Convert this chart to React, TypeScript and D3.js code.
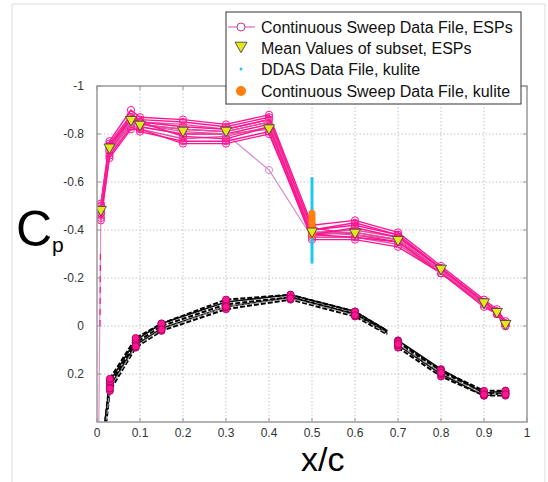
import React from "react";
import * as d3 from "d3";

const W = 548;
const H = 482;

const xTicks = [0, 0.1, 0.2, 0.3, 0.4, 0.5, 0.6, 0.7, 0.8, 0.9, 1];
const xTickLabels = ["0", "0.1", "0.2", "0.3", "0.4", "0.5", "0.6", "0.7", "0.8", "0.9", "1"];
const yTicks = [-1, -0.8, -0.6, -0.4, -0.2, 0, 0.2];
const yTickLabels = ["-1", "-0.8", "-0.6", "-0.4", "-0.2", "0", "0.2"];

const legendLabels = [
  "Continuous Sweep Data File, ESPs",
  "Mean Values of subset, ESPs",
  "DDAS Data File, kulite",
  "Continuous Sweep Data File, kulite",
];

// Upper surface ESP stations
const xsUpper = [0.009, 0.029, 0.079, 0.1, 0.2, 0.3, 0.4, 0.5, 0.6, 0.7, 0.8, 0.9, 0.93, 0.95];
const espSweeps = [
  [-0.5, -0.76, -0.88, -0.86, -0.85, -0.83, -0.87, -0.4, -0.42, -0.38, -0.24, -0.1, -0.06, -0.01],
  [-0.48, -0.75, -0.87, -0.85, -0.84, -0.82, -0.86, -0.39, -0.4, -0.37, -0.24, -0.1, -0.06, -0.01],
  [-0.47, -0.73, -0.85, -0.84, -0.82, -0.81, -0.85, -0.38, -0.39, -0.36, -0.23, -0.09, -0.05, 0.0],
  [-0.49, -0.74, -0.86, -0.83, -0.8, -0.8, -0.84, -0.41, -0.38, -0.35, -0.23, -0.09, -0.06, -0.01],
  [-0.46, -0.72, -0.84, -0.82, -0.78, -0.79, -0.83, -0.37, -0.37, -0.34, -0.22, -0.09, -0.05, 0.0],
  [-0.51, -0.77, -0.9, -0.87, -0.86, -0.84, -0.88, -0.42, -0.44, -0.39, -0.25, -0.11, -0.07, -0.02],
  [-0.45, -0.71, -0.83, -0.81, -0.77, -0.77, -0.81, -0.36, -0.36, -0.33, -0.22, -0.08, -0.05, 0.0],
  [-0.48, -0.74, -0.86, -0.84, -0.81, -0.8, -0.82, -0.39, -0.38, -0.36, -0.23, -0.1, -0.06, -0.01],
  [-0.44, -0.7, -0.82, -0.82, -0.76, -0.76, -0.8, -0.38, -0.37, -0.35, -0.22, -0.09, -0.05, 0.0],
  [-0.5, -0.75, -0.87, -0.85, -0.83, -0.82, -0.86, -0.4, -0.43, -0.38, -0.24, -0.1, -0.06, -0.01],
  [-0.49, -0.74, -0.85, -0.84, -0.82, -0.81, -0.85, -0.39, -0.39, -0.36, -0.23, -0.09, -0.06, 0.0],
  [-0.47, -0.75, -0.86, -0.85, -0.79, -0.78, -0.83, -0.38, -0.41, -0.37, -0.24, -0.1, -0.06, -0.01],
];
const espOutlier = [-0.47, -0.73, -0.85, -0.83, -0.8, -0.8, -0.65, -0.37, -0.41, -0.37, -0.24, -0.1, -0.06, -0.01];
const meanCp = [-0.48, -0.74, -0.855, -0.835, -0.81, -0.81, -0.82, -0.39, -0.385, -0.355, -0.235, -0.095, -0.055, -0.005];

// leading edge drop (pink line toward the stagnation point)
const leX = [0.004, 0.009];
const leCp = [0.45, -0.48];

// Lower surface
const xsLowerFront = [0.012, 0.03, 0.09, 0.15, 0.3, 0.45, 0.6, 0.675];
const xsLowerRear = [0.7, 0.8, 0.9, 0.95];
const lowerFront = [
  [0.55, 0.27, 0.09, 0.02, -0.07, -0.11, -0.04, 0.035],
  [0.53, 0.25, 0.08, 0.01, -0.08, -0.12, -0.05, 0.03],
  [0.52, 0.24, 0.07, 0.0, -0.09, -0.12, -0.05, 0.025],
  [0.5, 0.23, 0.06, -0.01, -0.1, -0.13, -0.06, 0.02],
  [0.51, 0.22, 0.05, -0.01, -0.11, -0.13, -0.06, 0.02],
  [0.54, 0.26, 0.085, 0.015, -0.08, -0.115, -0.045, 0.03],
];
const lowerRear = [
  [0.09, 0.21, 0.29, 0.29],
  [0.08, 0.2, 0.29, 0.28],
  [0.07, 0.19, 0.28, 0.28],
  [0.06, 0.18, 0.28, 0.27],
  [0.065, 0.185, 0.27, 0.27],
  [0.075, 0.195, 0.285, 0.285],
];

// Kulite at x/c = 0.5
const kuliteX = 0.5;
const ddasRange = [-0.62, -0.26];
const sweepKuliteRange = [-0.47, -0.38];

const FONT = "'Liberation Sans', Arial, sans-serif";

export default function App() {
  const x = d3.scaleLinear().domain([0, 1]).range([97, 527]);
  const y = d3.scaleLinear().domain([-1, 0.4]).range([86, 422]);
  const [x0, x1] = x.range();
  const [y0, y1] = y.range();

  const line = d3
    .line<[number, number]>()
    .x((d) => x(d[0]))
    .y((d) => y(d[1]));

  const zip = (xs: number[], ys: number[]) => xs.map((v, i) => [v, ys[i]] as [number, number]);
  const pink = "#ff1493";
  const tri = (cx: number, cy: number, s: number) =>
    `M${cx - s},${cy - s * 0.8}L${cx + s},${cy - s * 0.8}L${cx},${cy + s * 0.95}Z`;

  const lowerStationsFront = xsLowerFront.slice(1, 7);

  const legX = 226;
  const legY = 12;
  const legW = 295;
  const legH = 92;
  const rowY = [27, 48, 69, 91];
  const sampleX = 241;

  const lowerStyle = (i: number) =>
    i === 5
      ? { stroke: "#999", strokeWidth: 1.2, strokeDasharray: "4 2" }
      : i % 2 === 0
      ? { stroke: "#000", strokeWidth: 2, strokeDasharray: "5 2" }
      : { stroke: "#111", strokeWidth: 1.6, strokeDasharray: "none" };

  return (
    <svg
      width={W}
      height={H}
      style={{ position: "absolute", left: 0, top: 0, background: "#fff" }}
      fontFamily={FONT}
    >
      <defs>
        <clipPath id="plot">
          <rect x={x0} y={y0} width={x1 - x0} height={y1 - y0} />
        </clipPath>
      </defs>
      {/* outer frame */}
      <line x1={12} y1={4} x2={12} y2={H} stroke="#ddd" />
      <line x1={12} y1={4} x2={545} y2={4} stroke="#ddd" />
      <line x1={545} y1={4} x2={545} y2={H} stroke="#ddd" />

      {/* grid */}
      {xTicks.slice(1, -1).map((t) => (
        <line key={"gx" + t} x1={x(t)} x2={x(t)} y1={y0} y2={y1} stroke="#c4c4c4" strokeDasharray="1.5 2" />
      ))}
      {yTicks.slice(1).map((t) => (
        <line key={"gy" + t} x1={x0} x2={x1} y1={y(t)} y2={y(t)} stroke="#c4c4c4" strokeDasharray="1.5 2" />
      ))}

      <g clipPath="url(#plot)">
        {/* leading edge pink drop */}
        <path d={line(zip(leX, leCp)) || ""} fill="none" stroke="#e58ccc" strokeWidth={1.2} />
        <path d={line(zip([0.007, 0.008], [0.0, -0.3])) || ""} fill="none" stroke={pink} strokeWidth={1.2} strokeDasharray="6 5" />

        {/* lower surface black lines */}
        {lowerFront.map((s, i) => (
          <path key={"lf" + i} d={line(zip(xsLowerFront, s)) || ""} fill="none" {...lowerStyle(i)} />
        ))}
        {lowerRear.map((s, i) => (
          <path key={"lr" + i} d={line(zip(xsLowerRear, s)) || ""} fill="none" {...lowerStyle(i)} />
        ))}
        {lowerFront.map((s, i) =>
          lowerStationsFront.map((xv, j) => (
            <circle key={`lfc${i}-${j}`} cx={x(xv)} cy={y(s[j + 1])} r={3.6} fill={pink} stroke="#a0005a" strokeWidth={0.8} />
          ))
        )}
        {lowerRear.map((s, i) =>
          xsLowerRear.map((xv, j) => (
            <circle key={`lrc${i}-${j}`} cx={x(xv)} cy={y(s[j])} r={3.6} fill={pink} stroke="#a0005a" strokeWidth={0.8} />
          ))
        )}

        {/* upper surface ESP sweeps */}
        <path d={line(zip(xsUpper, espOutlier)) || ""} fill="none" stroke="#d98ccc" strokeWidth={1.2} />
        {xsUpper.map((xv, j) => (
          <circle key={"oc" + j} cx={x(xv)} cy={y(espOutlier[j])} r={3.6} fill="none" stroke="#d98ccc" strokeWidth={1} />
        ))}
        {espSweeps.map((s, i) => (
          <g key={"esp" + i}>
            <path d={line(zip(xsUpper, s)) || ""} fill="none" stroke={i % 3 === 1 ? "#e0509e" : pink} strokeWidth={1.4} />
            {xsUpper.map((xv, j) => (
              <circle key={j} cx={x(xv)} cy={y(s[j])} r={3.6} fill="none" stroke={i % 3 === 1 ? "#e070b0" : pink} strokeWidth={1} />
            ))}
          </g>
        ))}

        {/* kulite data */}
        <line x1={x(kuliteX)} x2={x(kuliteX)} y1={y(ddasRange[0])} y2={y(ddasRange[1])} stroke="#1ec8ec" strokeWidth={3} />
        <line
          x1={x(kuliteX)}
          x2={x(kuliteX)}
          y1={y(sweepKuliteRange[0])}
          y2={y(sweepKuliteRange[1])}
          stroke="#ff7f0e"
          strokeWidth={7}
          strokeLinecap="round"
        />

        {/* mean triangles */}
        {xsUpper.map((xv, j) => (
          <path key={"m" + j} d={tri(x(xv), y(meanCp[j]), 5.5)} fill="#e6e61e" stroke="#333" strokeWidth={0.8} />
        ))}
      </g>

      {/* axes box */}
      <rect x={x0} y={y0} width={x1 - x0} height={y1 - y0} fill="none" stroke="#999" strokeWidth={1.5} />
      {xTicks.map((t) => (
        <g key={"tx" + t}>
          <line x1={x(t)} x2={x(t)} y1={y1} y2={y1 - 4} stroke="#999" />
          <line x1={x(t)} x2={x(t)} y1={y0} y2={y0 + 4} stroke="#999" />
        </g>
      ))}
      {yTicks.map((t) => (
        <g key={"ty" + t}>
          <line x1={x0} x2={x0 + 4} y1={y(t)} y2={y(t)} stroke="#999" />
          <line x1={x1} x2={x1 - 4} y1={y(t)} y2={y(t)} stroke="#999" />
        </g>
      ))}
      {xTicks.map((t, i) => (
        <text key={"lx" + t} x={x(t)} y={y1 + 15} fontSize={12} fill="#333" textAnchor="middle">
          {xTickLabels[i]}
        </text>
      ))}
      {yTicks.map((t, i) => (
        <text key={"ly" + t} x={x0 - 13} y={y(t) + 4} fontSize={12} fill="#333" textAnchor="end">
          {yTickLabels[i]}
        </text>
      ))}

      {/* axis labels */}
      <text x={16} y={246} fontSize={50} fill="#000">
        C
        <tspan fontSize={21} dy={6}>
          p
        </tspan>
      </text>
      <text x={301} y={471} fontSize={34} fill="#000">
        x/c
      </text>

      {/* partially hidden black mark behind legend */}
      <path d="M505,22 L516,20 L520,26 L517,31 L512,27 Z" fill="#111" />

      {/* legend */}
      <rect x={legX} y={legY} width={legW} height={legH} fill="#fff" stroke="#333" strokeWidth={1} />
      <line x1={legX + 2} x2={sampleX + 14} y1={rowY[0]} y2={rowY[0]} stroke="#d070c0" strokeWidth={1.2} />
      <circle cx={sampleX} cy={rowY[0]} r={4} fill="#fff" stroke="#c0389a" strokeWidth={1} />
      <path d={tri(sampleX, rowY[1] - 1, 6)} fill="#e6e61e" stroke="#333" strokeWidth={0.8} />
      <circle cx={sampleX} cy={rowY[2]} r={1.5} fill="#1ec8ec" />
      <circle cx={sampleX} cy={rowY[3]} r={5} fill="#ff7f0e" />
      {legendLabels.map((l, i) => (
        <text key={l} x={261} y={rowY[i] + 6} fontSize={16} fill="#111">
          {l}
        </text>
      ))}
    </svg>
  );
}
